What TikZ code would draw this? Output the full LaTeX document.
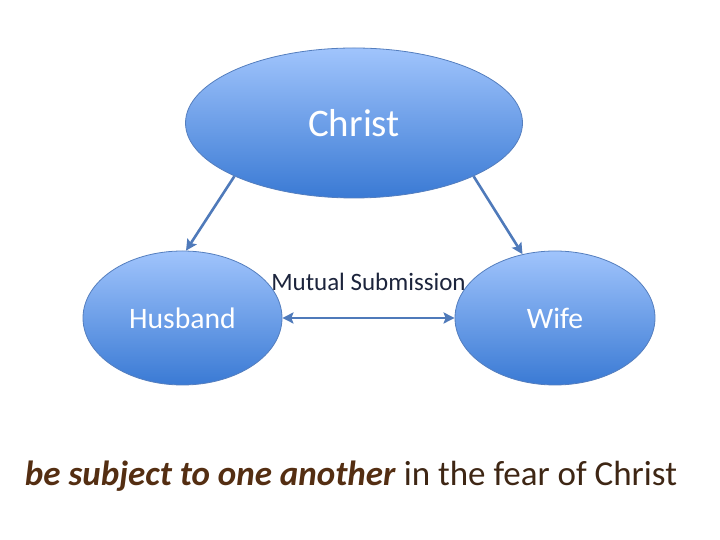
\documentclass[tikz,border=0pt]{standalone}
\usepackage{fontspec}
\setmainfont{Carlito}
\usetikzlibrary{shapes.geometric,arrows.meta}
\definecolor{topblue}{RGB}{160,196,252}
\definecolor{botblue}{RGB}{58,122,212}
\definecolor{edgeblue}{RGB}{84,126,190}
\definecolor{arrowblue}{RGB}{79,122,186}
\definecolor{navytext}{RGB}{28,36,60}
\definecolor{boldbrown}{RGB}{84,46,18}
\definecolor{regbrown}{RGB}{62,38,20}
\tikzset{
  bubble/.style={ellipse, draw=edgeblue, line width=0.8pt, top color=topblue, bottom color=botblue, inner sep=0pt, text=white},
  link/.style={draw=arrowblue, line width=2.6pt, -{Stealth[length=11pt,width=11pt,inset=2pt]}},
  biglink/.style={draw=arrowblue, line width=2.6pt, {Stealth[length=11pt,width=11pt,inset=2pt]}-{Stealth[length=11pt,width=11pt,inset=2pt]}}
}
\begin{document}
\begin{tikzpicture}[x=1pt,y=1pt]
\useasboundingbox (0,0) rectangle (720,540);
\node[bubble, minimum width=337pt, minimum height=150pt, font=\fontsize{39}{43}\selectfont] (C) at (354,417) {Christ};
\node[bubble, minimum width=199pt, minimum height=134pt, font=\fontsize{29.7}{33}\selectfont] (H) at (182.5,222) {Husband};
\node[bubble, minimum width=200pt, minimum height=134pt, font=\fontsize{29.7}{33}\selectfont] (W) at (555,222) {Wife};
\draw[link] (C.204) -- (H.87);
\draw[link] (C.336) -- (W.117);
\draw[biglink] (H.east) -- node[above=23pt, text=navytext, font=\fontsize{25}{29}\selectfont] (M) {Mutual Submission} (W.west);
\node[font=\fontsize{35}{39}\selectfont] (T) at (351,64) {\textcolor{boldbrown}{\textbf{\textit{be subject to one another}}} \textcolor{regbrown}{in the fear of Christ}};
\end{tikzpicture}
\end{document}
